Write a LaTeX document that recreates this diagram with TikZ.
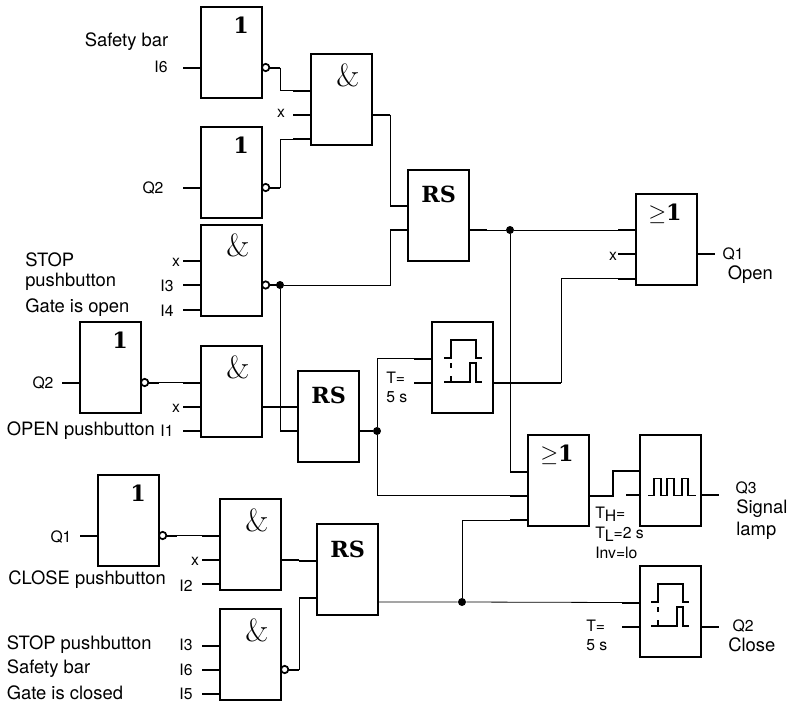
\documentclass[tikz,border=0pt]{standalone}
\usepackage{fontspec}
\setsansfont{TeX Gyre Heros}
\newfontfamily\gatefont{DejaVu Serif}
\usetikzlibrary{positioning}

% box with its symbol and its pin coordinates: name, left, top, symbol style, symbol
\newcommand{\gate}[5]{%
  \node[gate] (#1) at (#2,#3) {};
  \node[#4] (#1s) at (#2,#3) {#5};
  \coordinate (#1a) at (#2,#3+36.5);
  \coordinate (#1b) at (#2,#3+60.5);
  \coordinate (#1c) at (#2,#3+85);
  \coordinate (#1as) at (#2-18,#3+36.5);
  \coordinate (#1bs) at (#2-18,#3+60.5);
  \coordinate (#1cs) at (#2-18,#3+85);
  \coordinate (#1o) at (#2+61,#3+60.5);
  \coordinate (#1os) at (#2+79,#3+60.5);
}
% inverted output
\newcommand{\invert}[1]{%
  \node[bubble, right=0pt of #1o] (#1n) {};
  \draw[stub] (#1n) -- (#1os);
}
% two-line delay symbol, drawn from the upper left end
\newcommand{\delaysym}[1]{%
  \draw[glyph, shift={(#1)}]
    (0,18) -- (7,18) -- (7,0) -- (32,0) -- (32,18) -- (38,18);
  \draw[glyph, shift={(#1)}]
    (0,42) -- (26,42) -- (26,23) -- (32,23) -- (32,42) -- (38,42);
  \draw[glyph, shift={(#1)}, dash pattern=on 4pt off 6pt] (7,23) -- (7,42);
}

\begin{document}
\begin{tikzpicture}[
    x=0.75pt, y=-0.75pt,
    gate/.style={draw, line width=1.5pt, anchor=north west, inner sep=0pt, outer sep=0pt,
                 minimum width=45.75pt, minimum height=68.25pt},
    sym/.style={font=\gatefont\bfseries\fontsize{16.7}{18}\selectfont, inner sep=0pt},
    onesym/.style={sym, xshift=30pt, yshift=-13.5pt},
    rssym/.style={sym, xshift=23pt, yshift=-19pt},
    orsym/.style={sym, xshift=21.75pt, yshift=-15pt},
    andsym/.style={font=\fontsize{24}{26}\selectfont, inner sep=0pt, xshift=27.75pt, yshift=-15.75pt},
    bubble/.style={circle, draw, line width=1.3pt, fill=white, inner sep=0pt, outer sep=0pt,
                   minimum size=5.5pt},
    dotj/.style={circle, fill=black, inner sep=0pt, minimum size=6pt},
    stub/.style={line width=1.5pt},
    wire/.style={line width=0.6pt},
    glyph/.style={line width=1.1pt},
    small/.style={font=\sffamily\fontsize{11.8}{14}\selectfont, inner sep=0pt},
    big/.style={font=\sffamily\fontsize{13.8}{16}\selectfont, inner sep=0pt, anchor=west}
  ]
  \useasboundingbox (0,0) rectangle (790,704);

  % upper half
  \gate{inva}{201}{7}{onesym}{1}
  \gate{invb}{201}{127}{onesym}{1}
  \gate{anda}{311}{54}{andsym}{\&}
  \gate{andb}{201}{224.5}{andsym}{\&}
  \gate{rsa}{408}{169.5}{rssym}{RS}
  \gate{ora}{636}{193.5}{orsym}{$\geq$1}
  \gate{invc}{80}{322}{onesym}{1}
  \gate{andc}{201}{346}{andsym}{\&}
  \gate{rsb}{298}{370.5}{rssym}{RS}
  \gate{tima}{432}{322}{sym}{}

  % lower half
  \gate{orb}{528}{435}{orsym}{$\geq$1}
  \gate{puls}{640}{434.5}{sym}{}
  \gate{invd}{98}{475}{onesym}{1}
  \gate{andd}{220}{499}{andsym}{\&}
  \gate{rsc}{317}{524}{rssym}{RS}
  \gate{ande}{220}{609}{andsym}{\&}
  \gate{timb}{640}{566}{sym}{}

  \invert{inva}
  \invert{invb}
  \invert{andb}
  \invert{invc}
  \invert{invd}
  \invert{ande}

  \delaysym{444,340}
  \delaysym{651,584}
  \draw[glyph] (648,495.5) -- (654,495.5) -- (654,478.5) -- (661,478.5) -- (661,495.5)
     -- (667,495.5) -- (667,478.5) -- (674,478.5) -- (674,495.5)
     -- (682,495.5) -- (682,478.5) -- (688,478.5) -- (688,495.5) -- (696,495.5);

  \node[dotj] (jstop) at (andbos) {};
  \node[dotj] (jopen) at (510,230) {};
  \node[dotj] (jrsb) at (rsbos) {};
  \node[dotj] (jclose) at (462,602) {};
  \coordinate (rsco) at (378,602);
  \coordinate (rscd) at (317,598);
  \coordinate (rscds) at (299,598);
  \coordinate (timw) at (561,382.5);
  \coordinate (ork) at (613,495.5);
  \coordinate (pulf) at (626,495);

  % input and output stubs
  \foreach \pin in {anda,andb,andc,andd,ande,rsa,rsb,rsc,ora,orb,puls,tima,timb}
    {\draw[stub] (\pin as) -- (\pin a);}
  \foreach \pin in {inva,invb,invc,invd,anda,andb,andc,andd,ande,rsa,rsb,ora,orb,tima,timb}
    {\draw[stub] (\pin bs) -- (\pin b);}
  \foreach \pin in {anda,andb,andc,andd,ande,ora,orb}
    {\draw[stub] (\pin cs) -- (\pin c);}
  \draw[stub] (rsbo) -- (jrsb);
  \foreach \pin in {anda,andc,andd,rsa,ora,puls,timb}
    {\draw[stub] (\pin o) -- (\pin os);}

  % wires
  \draw[wire] (invaos) |- (andaas);
  \draw[wire] (invbos) |- (andacs);
  \draw[wire] (andaos) |- (rsaas);
  \draw[wire] (jstop) -| (rsabs);
  \draw[wire] (jstop) |- (rsbbs);
  \draw[wire] (rsaos) -- (jopen) -- (oraas);
  \draw[wire] (jopen) |- (orbas);
  \draw[wire] (invcos) -- (andcas);
  \draw[wire] (invdos) -- (anddas);
  \draw[wire] (jrsb) |- (timaas);
  \draw[wire] (jrsb) |- (orbbs);
  \draw[stub] (timao) -- (timw);
  \draw[wire] (timw) |- (oracs);
  \draw[stub] (orbo) -- (ork) |- (pulsa);
  \draw[stub] (pulf) -- (pulsb);
  \draw[wire] (andeos) |- (rscd);
  \draw[stub] (rscds) -- (rscd);
  \draw[wire] (rsco) -- (jclose) -- (timbas);
  \draw[wire] (jclose) |- (orbcs);
  \draw[stub] (andcos) -- (rsbas);
  \draw[stub] (anddos) -- (rscas);

  % labels
  \node[big] (safa) at (84.5,42) {Safety bar};
  \node[small] (isix) at (161,67) {I6};
  \node[small] (qtwa) at (153,188) {Q2};
  \node[small] (xa) at (281,113) {x};
  \node[big] (stopa) at (25,260) {STOP};
  \node[big] (pusha) at (25,282) {pushbutton};
  \node[big] (gatea) at (25,308) {Gate is open};
  \node[small] (xb) at (176,262) {x};
  \node[small] (ithr) at (167,286) {I3};
  \node[small] (ifou) at (167,311) {I4};
  \node[small] (qtwb) at (43,383) {Q2};
  \node[small] (xc) at (176,408) {x};
  \node[big] (opena) at (6.5,431) {OPEN pushbutton};
  \node[small] (ione) at (167,431) {I1};
  \node[small] (qona) at (61,537) {Q1};
  \node[big] (closea) at (8,580) {CLOSE pushbutton};
  \node[small] (xd) at (195,561) {x};
  \node[small] (itwo) at (186,586) {I2};
  \node[big] (stopb) at (6.5,645) {STOP pushbutton};
  \node[big] (safb) at (6.5,669) {Safety bar};
  \node[big] (gateb) at (6.5,693) {Gate is closed};
  \node[small] (ithb) at (186,645) {I3};
  \node[small] (isib) at (186,670) {I6};
  \node[small] (ifiv) at (186,694) {I5};
  \node[small, anchor=west] (ta) at (386,378) {T=};
  \node[small, anchor=west] (fa) at (386,397) {5 s};
  \node[small] (xe) at (613,256) {x};
  \node[small] (qonb) at (733,254) {Q1};
  \node[big] (opn) at (727.5,275) {Open};
  \node[small, anchor=west] (th) at (595,514) {T\raisebox{-0.4ex}{H}=};
  \node[small, anchor=west] (tl) at (595,534) {T\raisebox{-0.4ex}{L}=2 s};
  \node[small, anchor=west] (inv) at (595,553) {Inv=lo};
  \node[small] (qthr) at (746,488) {Q3};
  \node[big] (sig) at (736,509) {Signal};
  \node[big] (lmp) at (736,531) {lamp};
  \node[small, anchor=west] (tb) at (586,626) {T=};
  \node[small, anchor=west] (fb) at (586,645) {5 s};
  \node[small] (qtwc) at (743,626) {Q2};
  \node[big] (cls) at (728,645) {Close};
\end{tikzpicture}
\end{document}
